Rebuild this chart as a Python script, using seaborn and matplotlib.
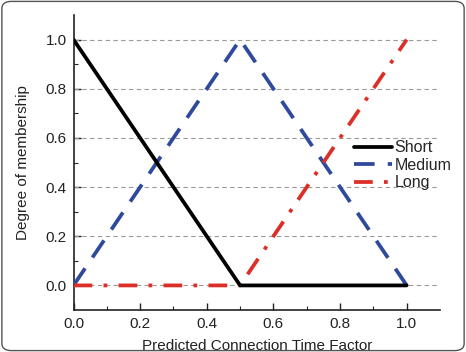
import numpy as np
import pandas as pd
import matplotlib.pyplot as plt
import seaborn as sns
from matplotlib.patches import FancyBboxPatch

# membership functions
x_vals = [0.0, 0.5, 1.0]
short_vals = [1.0, 0.0, 0.0]
medium_vals = [0.0, 1.0, 0.0]
long_vals = [0.0, 0.0, 1.0]
series_names = ['Short', 'Medium', 'Long']

sns.set_style('ticks')
plt.rcParams['font.family'] = ['Liberation Sans', 'DejaVu Sans']

fig = plt.figure(figsize=(4.66, 3.52), dpi=100)
ax = fig.add_axes([73.5 / 466, 1 - 310 / 352, (440 - 73.5) / 466, (310 - 15) / 352])

for yv in np.arange(0, 1.01, 0.2):
    ax.plot([0, 1.09], [yv, yv], color='#9a9a9a', lw=0.8, ls=(0, (4, 3)), zorder=1)

df = pd.DataFrame({
    'x': x_vals * 3,
    'y': medium_vals + long_vals + short_vals,
    'name': ['Medium'] * 3 + ['Long'] * 3 + ['Short'] * 3,
})

colors = {'Short': '#000000', 'Medium': '#2f4a9c', 'Long': '#dc2f27'}
styles = {'Short': '-', 'Medium': (0, (5.5, 3.5)), 'Long': (0, (5, 3, 1, 3))}
for name in ['Medium', 'Long', 'Short']:
    sub = df[df['name'] == name]
    sns.lineplot(data=sub, x='x', y='y', ax=ax, color=colors[name], lw=2.7,
                 linestyle=styles[name], label=name, zorder=3)

ax.set_xlim(0, 1.1)
ax.set_ylim(-0.1, 1.1)
ax.set_xticks(np.arange(0, 1.01, 0.2))
ax.set_yticks(np.arange(0, 1.01, 0.2))
ax.set_xticks(np.arange(0.1, 1.1, 0.2), minor=True)
ax.set_yticks(np.arange(0.1, 1.1, 0.2), minor=True)
ax.xaxis.set_major_formatter(plt.FormatStrFormatter('%.1f'))
ax.yaxis.set_major_formatter(plt.FormatStrFormatter('%.1f'))
ax.tick_params(direction='in', length=5, width=1, labelsize=11, pad=5, colors='#222222')
ax.tick_params(which='minor', direction='in', length=3, width=0.8)
sns.despine(ax=ax)
for s in ['left', 'bottom']:
    ax.spines[s].set_linewidth(1.2)
    ax.spines[s].set_color('#222222')

ax.set_xlabel('Predicted Connection Time Factor', fontsize=11, labelpad=6, color='#222222')
ax.set_ylabel('Degree of membership', fontsize=11, labelpad=11, color='#222222')

handles, labels = ax.get_legend_handles_labels()
order = [labels.index(n) for n in series_names]
ax.legend([handles[i] for i in order], series_names, frameon=False, fontsize=11.5,
          loc='upper left', bbox_to_anchor=(0.765, 0.575), handlelength=2.4,
          handletextpad=0.15, labelspacing=0.15, borderaxespad=0, borderpad=0)

fig.patches.append(FancyBboxPatch((0.004, 0.004), 0.992, 0.992, boxstyle='round,pad=0,rounding_size=0.02',
                                  transform=fig.transFigure, fill=False, ec='#555555', lw=1))

fig.savefig('out.png', dpi=100)
